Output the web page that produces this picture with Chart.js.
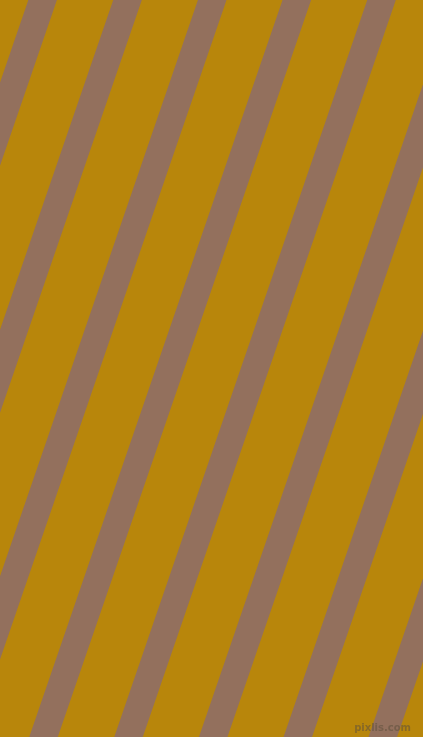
<!DOCTYPE html>
<html>
<head>
<meta charset="utf-8">
<script src="https://cdn.jsdelivr.net/npm/chart.js@4.4.1/dist/chart.umd.min.js"></script>
<style>
  html, body { margin: 0; padding: 0; background: #B8860B; overflow: hidden; }
  #stripes { display: block; background: #B8860B; }
</style>
</head>
<body>
<canvas id="stripes" width="423" height="737"></canvas>
<script>
const STRIPE_TOP_X = [42.6, 127.5, 212.2, 296.8, 381.5, 466.2, 550.9, 635.6];
const STRIPE_BOTTOM_X = [-210.3, -125.6, -40.9, 43.5, 128.5, 213.2, 297.8, 382.8];
const Y_TOP = 0;
const Y_BOTTOM = 737;
const WATERMARK = "pixlis.com";

const COLOR_FONDO = "#B8860B";
const COLOR_RAYA = "#93705D";

const datasets = STRIPE_TOP_X.map((xTop, i) => ({
  label: "raya " + (i + 1),
  data: [{ x: xTop, y: Y_TOP }, { x: STRIPE_BOTTOM_X[i], y: Y_BOTTOM }],
  showLine: true,
  borderColor: COLOR_RAYA,
  borderWidth: 27,
  borderCapStyle: "square",
  pointRadius: 0,
  pointHoverRadius: 0
}));

const marcaAgua = {
  id: "marcaAgua",
  afterDraw(chart) {
    const ctx = chart.ctx;
    ctx.save();
    ctx.font = "bold 10px 'DejaVu Sans', sans-serif";
    ctx.textAlign = "right";
    ctx.textBaseline = "alphabetic";
    ctx.fillStyle = "rgba(95, 80, 60, 0.55)";
    ctx.fillText(WATERMARK, 411, 731);
    ctx.restore();
  }
};

new Chart(document.getElementById("stripes").getContext("2d"), {
  type: "scatter",
  data: { datasets },
  options: {
    responsive: false,
    animation: false,
    events: [],
    layout: { padding: 0 },
    scales: {
      x: { type: "linear", min: 0, max: 423, display: false },
      y: { type: "linear", min: Y_TOP, max: Y_BOTTOM, reverse: true, display: false }
    },
    plugins: {
      legend: { display: false },
      tooltip: { enabled: false }
    }
  },
  plugins: [marcaAgua]
});
</script>
</body>
</html>
